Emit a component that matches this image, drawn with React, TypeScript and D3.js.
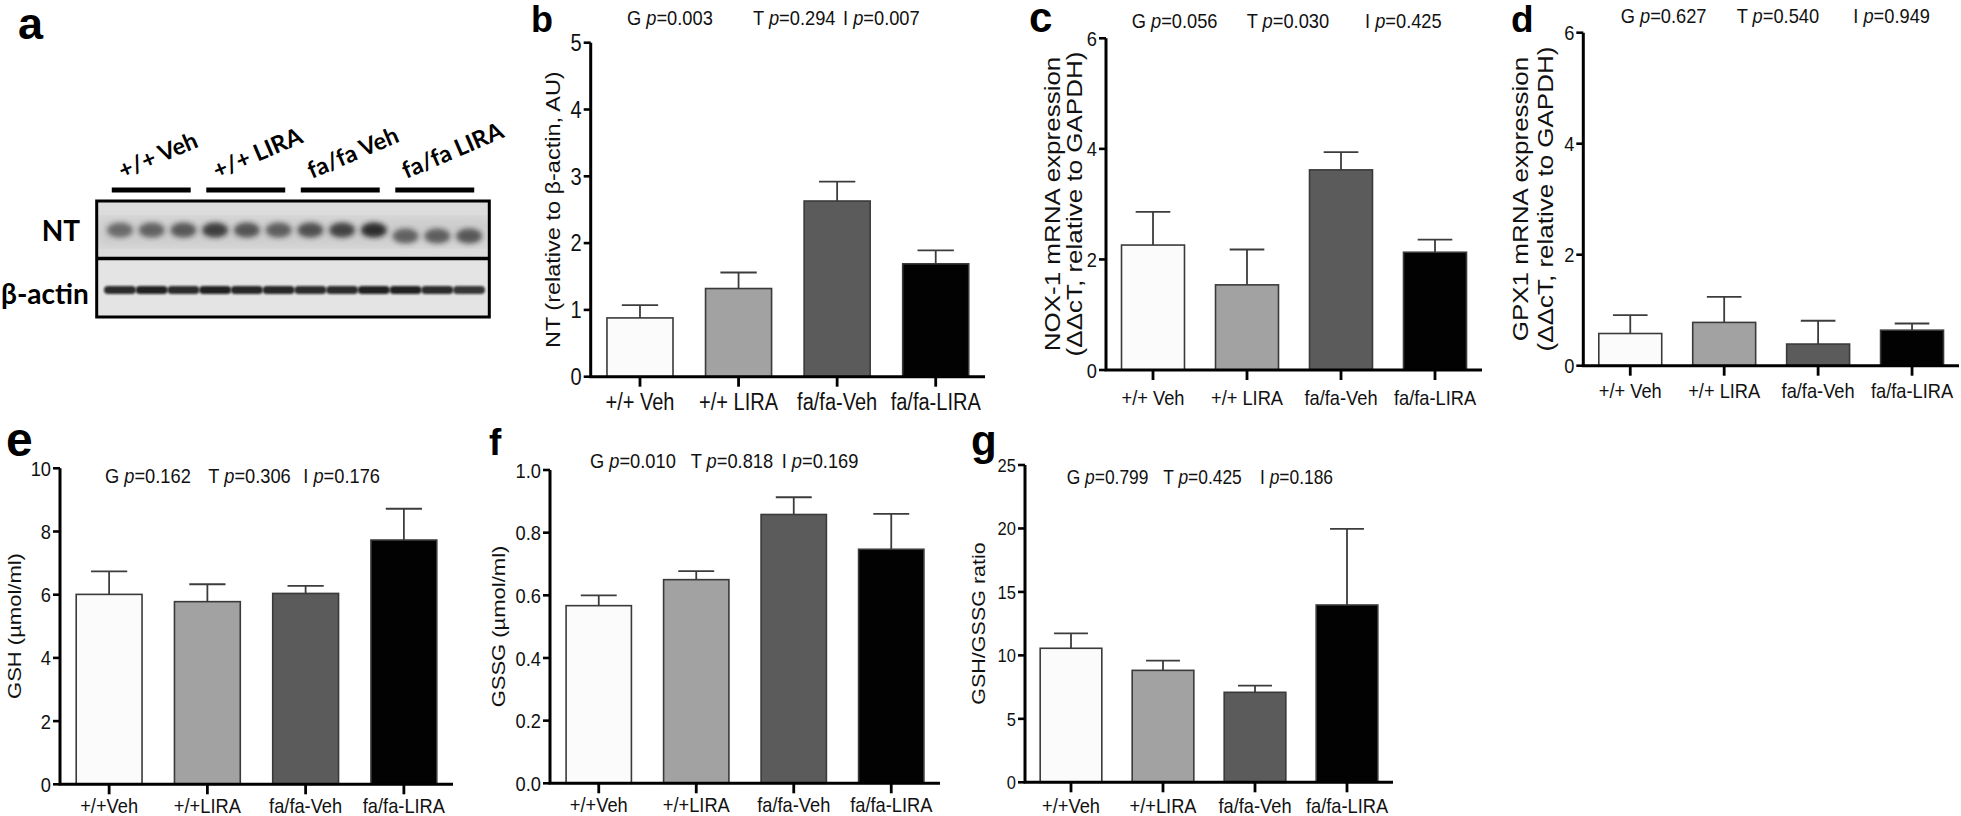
import React from "react";
import * as d3 from "d3";

const W = 1961;
const H = 816;

// ---------- data ----------
const groupsSpaced = ["+/+ Veh", "+/+ LIRA", "fa/fa-Veh", "fa/fa-LIRA"];
const groupsTight = ["+/+Veh", "+/+LIRA", "fa/fa-Veh", "fa/fa-LIRA"];
const blotGroups = ["+/+ Veh", "+/+ LIRA", "fa/fa Veh", "fa/fa LIRA"];
const effects = ["G", "T", "I"];

const ntMean = [0.88, 1.32, 2.63, 1.69];
const ntSem = [0.19, 0.24, 0.29, 0.2];
const ntTicks = [0, 1, 2, 3, 4, 5];
const ntP = ["0.003", "0.294", "0.007"];

const nox1Mean = [2.26, 1.54, 3.62, 2.13];
const nox1Sem = [0.6, 0.64, 0.32, 0.23];
const nox1P = ["0.056", "0.030", "0.425"];

const gpx1Mean = [0.58, 0.78, 0.39, 0.64];
const gpx1Sem = [0.33, 0.46, 0.42, 0.12];
const gpx1P = ["0.627", "0.540", "0.949"];
const mrnaTicks = [0, 2, 4, 6];

const gshMean = [6.01, 5.78, 6.04, 7.73];
const gshSem = [0.73, 0.55, 0.24, 0.99];
const gshTicks = [0, 2, 4, 6, 8, 10];
const gshP = ["0.162", "0.306", "0.176"];

const gssgMean = [0.567, 0.65, 0.858, 0.747];
const gssgSem = [0.033, 0.027, 0.055, 0.113];
const gssgTicks = [0, 0.2, 0.4, 0.6, 0.8, 1.0];
const gssgP = ["0.010", "0.818", "0.169"];

const ratioMean = [10.56, 8.82, 7.09, 13.97];
const ratioSem = [1.18, 0.76, 0.52, 5.99];
const ratioTicks = [0, 5, 10, 15, 20, 25];
const ratioP = ["0.799", "0.425", "0.186"];

// western blot band intensities (12 lanes, 3 per group)
const ntLaneIntensity = [0.55, 0.6, 0.65, 0.8, 0.68, 0.62, 0.7, 0.78, 0.9, 0.6, 0.62, 0.66];
const actinLaneIntensity = [0.85, 0.9, 0.85, 0.9, 0.88, 0.88, 0.85, 0.85, 0.9, 0.9, 0.85, 0.8];

// ---------- styles ----------
const BAR_FILLS = ["#fbfbfb", "#a2a2a2", "#5b5b5b", "#020202"];
const SX = 0.87;
const SANS = "'Liberation Sans', Arial, Helvetica, sans-serif";
const BLOT_FONT = "Lato, 'Open Sans', 'Noto Sans', sans-serif";

function Txt({ x, y, size, anchor = "start", rot = 0, weight = "normal", family = SANS, sx = SX, fill = "#111", children }: any) {
  const t = `translate(${x},${y}) scale(${sx},1)` + (rot ? ` rotate(${rot})` : "");
  return (
    <text transform={t} fontSize={size} textAnchor={anchor} fontWeight={weight} fontFamily={family} fill={fill}>
      {children}
    </text>
  );
}

type PanelCfg = {
  letter: { t: string; x: number; y: number; fs: number };
  axisX: number; axisEnd: number; y0: number; yTop: number;
  max: number; ticks: number[]; fmt: (v: number) => string;
  means: number[]; sems: number[]; cats: string[]; p: string[];
  tickFs: number; xlabFs: number; xlabY: number;
  pFs: number; pY: number; pX: number[];
  ylab: { lines: string[]; x: number[]; cy: number; fs: number };
};

function BarPanel({ c }: { c: PanelCfg }) {
  const x = d3.scaleBand<string>().domain(c.cats).range([c.axisX, c.axisEnd]).paddingInner(0.33).paddingOuter(0.165);
  const y = d3.scaleLinear().domain([0, c.max]).range([c.y0, c.yTop]);
  const bw = x.bandwidth();
  const capW = bw * 0.55;
  return (
    <g>
      <text x={c.letter.x} y={c.letter.y} fontSize={c.letter.fs} fontWeight="bold" fontFamily={SANS} fill="#000">{c.letter.t}</text>
      {c.p.map((pv, i) => (
        <Txt key={"p" + i} x={c.pX[i]} y={c.pY} size={c.pFs}>
          {effects[i] + " "}<tspan fontStyle="italic">p</tspan>{"=" + pv}
        </Txt>
      ))}
      {c.ylab.lines.map((ln, i) => (
        <Txt key={"yl" + i} x={c.ylab.x[i]} y={c.ylab.cy} size={c.ylab.fs} anchor="middle" rot={-90}>{ln}</Txt>
      ))}
      {c.means.map((m, i) => {
        const cx = (x(c.cats[i]) as number) + bw / 2;
        const yt = y(m + c.sems[i]);
        return (
          <g key={"b" + i}>
            <line x1={cx} x2={cx} y1={y(m)} y2={yt} stroke="#3c3c3c" strokeWidth={1.8} />
            <line x1={cx - capW / 2} x2={cx + capW / 2} y1={yt} y2={yt} stroke="#3c3c3c" strokeWidth={1.8} />
            <rect x={x(c.cats[i])} y={y(m)} width={bw} height={c.y0 - y(m)} fill={BAR_FILLS[i]} stroke="#3a3a3a" strokeWidth={1.6} />
          </g>
        );
      })}
      {c.ticks.map((t) => (
        <g key={"t" + t}>
          <line x1={c.axisX - 7} x2={c.axisX} y1={y(t)} y2={y(t)} stroke="#000" strokeWidth={2.6} />
          <Txt x={c.axisX - 9} y={y(t) + c.tickFs * 0.36} size={c.tickFs} anchor="end">{c.fmt(t)}</Txt>
        </g>
      ))}
      {c.cats.map((cat) => {
        const cx = (x(cat) as number) + bw / 2;
        return (
          <g key={"x" + cat}>
            <line x1={cx} x2={cx} y1={c.y0} y2={c.y0 + 10} stroke="#000" strokeWidth={2.8} />
            <Txt x={cx} y={c.xlabY} size={c.xlabFs} anchor="middle">{cat}</Txt>
          </g>
        );
      })}
      <path d={`M${c.axisX},${c.yTop}V${c.y0}H${c.axisEnd}`} fill="none" stroke="#000" strokeWidth={3} />
    </g>
  );
}

function Blot() {
  const boxL = 96.7, boxR = 489.3;
  const ntTop = 201, mid = 258.5, acBot = 317;
  const lanes = d3.range(12).map(String);
  const lx = d3.scaleBand<string>().domain(lanes).range([106, 483]).paddingInner(0.12);
  const gx = d3.scaleBand<string>().domain(blotGroups).range([104, 482]).paddingInner(0.08).paddingOuter(0.04);
  return (
    <g>
      <defs>
        <filter id="blurNT" x="-50%" y="-80%" width="200%" height="260%"><feGaussianBlur stdDeviation="2.6" /></filter>
        <filter id="blurAC" x="-50%" y="-150%" width="200%" height="400%"><feGaussianBlur stdDeviation="1.3" /></filter>
        <filter id="blurBg"><feGaussianBlur stdDeviation="6" /></filter>
        <clipPath id="ntClip"><rect x={boxL} y={ntTop} width={boxR - boxL} height={mid - ntTop} /></clipPath>
        <clipPath id="acClip"><rect x={boxL} y={mid} width={boxR - boxL} height={acBot - mid} /></clipPath>
      </defs>
      <text x={18} y={39} fontSize={45} fontWeight="bold" fontFamily={SANS} fill="#000">a</text>
      {blotGroups.map((g) => {
        const x0 = gx(g) as number;
        return (
          <g key={g}>
            <rect x={x0 + 4} y={187.5} width={gx.bandwidth() - 8} height={5} fill="#000" />
            <text transform={`translate(${x0 + 15},${179}) rotate(-23)`} fontSize={23.5} fontWeight="bold" fontFamily={BLOT_FONT} fill="#000">{g}</text>
          </g>
        );
      })}
      <g clipPath="url(#ntClip)">
        <rect x={boxL} y={ntTop} width={boxR - boxL} height={mid - ntTop} fill="#dcdcdc" />
        <rect x={boxL} y={218} width={boxR - boxL} height={28} fill="#bdbdbd" opacity={0.55} filter="url(#blurBg)" />
        {ntLaneIntensity.map((v, i) => {
          const cx = (lx(String(i)) as number) + lx.bandwidth() / 2;
          const cy = i >= 9 ? 236 : 230;
          return <ellipse key={i} cx={cx} cy={cy} rx={lx.bandwidth() / 2 - 1} ry={7.5} fill="#1a1a1a" opacity={v} filter="url(#blurNT)" />;
        })}
      </g>
      <g clipPath="url(#acClip)">
        <rect x={boxL} y={mid} width={boxR - boxL} height={acBot - mid} fill="#e4e4e4" />
        {actinLaneIntensity.map((v, i) => {
          const x0 = lx(String(i)) as number;
          return <rect key={i} x={x0 - 2} y={286} width={lx.bandwidth() + 4} height={8} rx={4} fill="#0c0c0c" opacity={v} filter="url(#blurAC)" />;
        })}
      </g>
      <rect x={boxL} y={ntTop} width={boxR - boxL} height={acBot - ntTop} fill="none" stroke="#000" strokeWidth={3} />
      <line x1={boxL} x2={boxR} y1={mid} y2={mid} stroke="#000" strokeWidth={3.5} />
      <text x={80} y={241} fontSize={28} fontWeight="bold" fontFamily={BLOT_FONT} textAnchor="end" fill="#000">NT</text>
      <text x={1} y={304} fontSize={28} fontWeight="bold" fontFamily={BLOT_FONT} fill="#000">β-actin</text>
    </g>
  );
}

const f0 = d3.format("d");
const f1 = d3.format(".1f");

const panels: PanelCfg[] = [
  {
    letter: { t: "b", x: 531, y: 32, fs: 36 },
    axisX: 590.7, axisEnd: 985, y0: 376.7, yTop: 42.7, max: 5, ticks: ntTicks, fmt: f0,
    means: ntMean, sems: ntSem, cats: groupsSpaced, p: ntP,
    tickFs: 23, xlabFs: 23, xlabY: 410, pFs: 21, pY: 25, pX: [627, 753, 843],
    ylab: { lines: ["NT (relative to β-actin, AU)"], x: [560], cy: 209.7, fs: 23.5 },
  },
  {
    letter: { t: "c", x: 1029, y: 32, fs: 42 },
    axisX: 1106, axisEnd: 1482, y0: 370, yTop: 38.3, max: 6, ticks: mrnaTicks, fmt: f0,
    means: nox1Mean, sems: nox1Sem, cats: groupsSpaced, p: nox1P,
    tickFs: 21, xlabFs: 21, xlabY: 405, pFs: 21, pY: 28, pX: [1131.7, 1246.7, 1365],
    ylab: { lines: ["NOX-1 mRNA expression", "(ΔΔcT, relative to GAPDH)"], x: [1060, 1082], cy: 204, fs: 26 },
  },
  {
    letter: { t: "d", x: 1511, y: 32, fs: 37 },
    axisX: 1583.3, axisEnd: 1959, y0: 365.7, yTop: 32.7, max: 6, ticks: mrnaTicks, fmt: f0,
    means: gpx1Mean, sems: gpx1Sem, cats: groupsSpaced, p: gpx1P,
    tickFs: 21, xlabFs: 21, xlabY: 398.3, pFs: 21, pY: 23.3, pX: [1620.7, 1736.7, 1853.3],
    ylab: { lines: ["GPX1 mRNA expression", "(ΔΔcT, relative to GAPDH)"], x: [1528.3, 1553], cy: 199, fs: 26 },
  },
  {
    letter: { t: "e", x: 6, y: 456, fs: 48 },
    axisX: 60, axisEnd: 453, y0: 784.3, yTop: 468.3, max: 10, ticks: gshTicks, fmt: f0,
    means: gshMean, sems: gshSem, cats: groupsTight, p: gshP,
    tickFs: 21, xlabFs: 21, xlabY: 813, pFs: 21, pY: 483, pX: [105, 208.3, 303.3],
    ylab: { lines: ["GSH (µmol/ml)"], x: [21], cy: 626, fs: 22 },
  },
  {
    letter: { t: "f", x: 489, y: 455, fs: 37 },
    axisX: 550, axisEnd: 940, y0: 783.3, yTop: 470, max: 1, ticks: gssgTicks, fmt: f1,
    means: gssgMean, sems: gssgSem, cats: groupsTight, p: gssgP,
    tickFs: 21, xlabFs: 21, xlabY: 812, pFs: 21, pY: 468, pX: [590, 690.7, 781.7],
    ylab: { lines: ["GSSG (µmol/ml)"], x: [505], cy: 626.5, fs: 22 },
  },
  {
    letter: { t: "g", x: 971, y: 455, fs: 42 },
    axisX: 1025, axisEnd: 1393, y0: 782.3, yTop: 465, max: 25, ticks: ratioTicks, fmt: f0,
    means: ratioMean, sems: ratioSem, cats: groupsTight, p: ratioP,
    tickFs: 19, xlabFs: 21, xlabY: 813, pFs: 20, pY: 484, pX: [1066.7, 1163.3, 1260],
    ylab: { lines: ["GSH/GSSG ratio"], x: [985], cy: 623.5, fs: 21.5 },
  },
];

export default function App() {
  return (
    <svg width={W} height={H} viewBox={`0 0 ${W} ${H}`} style={{ position: "absolute", left: 0, top: 0, background: "#fff" }}>
      <rect width={W} height={H} fill="#fff" />
      <Blot />
      {panels.map((p) => <BarPanel key={p.letter.t} c={p} />)}
    </svg>
  );
}
